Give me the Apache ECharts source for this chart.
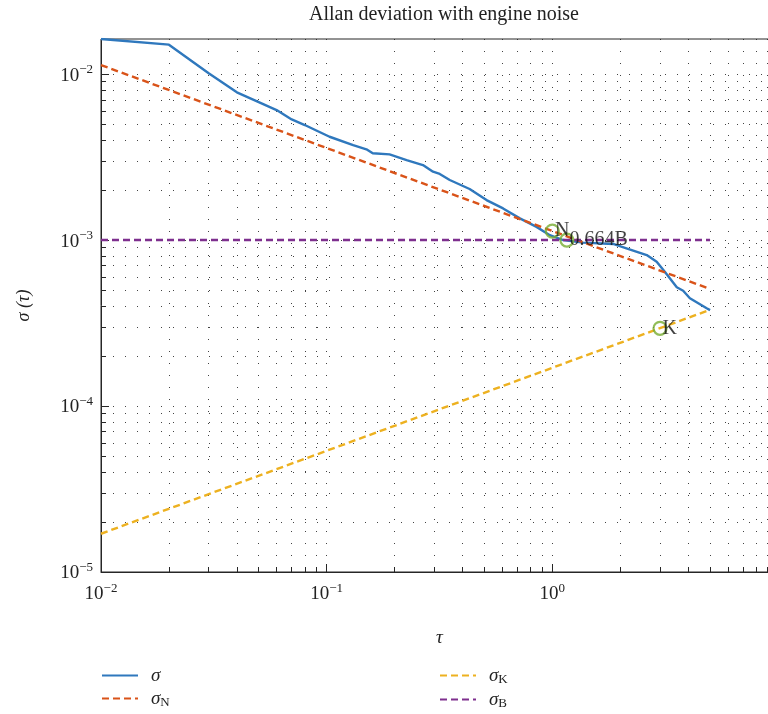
<!DOCTYPE html>
<html>
<head>
<meta charset="utf-8">
<script src="https://cdn.jsdelivr.net/npm/echarts@6/dist/echarts.min.js"></script>
<style>html,body{margin:0;padding:0;background:#fff;}#c{width:768px;height:714px;}</style>
</head>
<body>
<div id="c"></div>
<script>
// Allan deviation curve (tau, sigma)
const sigmaTau = [0.01, 0.02, 0.03, 0.04, 0.05, 0.06, 0.07, 0.08, 0.09, 0.103, 0.131, 0.15, 0.16, 0.19, 0.226, 0.267, 0.296, 0.317, 0.351, 0.43, 0.511, 0.605, 0.718, 0.851, 0.975, 1.117, 1.37, 1.86, 2.13, 2.62, 2.9, 3.15, 3.56, 3.8, 4.07, 4.83, 5.0];
const sigmaVal = [0.01626, 0.01503, 0.0101, 0.00776, 0.00678, 0.00607, 0.00533, 0.00493, 0.00457, 0.00419, 0.00373, 0.00352, 0.00333, 0.00328, 0.00303, 0.00283, 0.00258, 0.0025, 0.0023, 0.00203, 0.00174, 0.00155, 0.00135, 0.0012, 0.00107, 0.001, 0.000964, 0.000947, 0.000891, 0.000812, 0.00074, 0.000644, 0.000519, 0.000495, 0.000446, 0.000388, 0.000378];
// fitted lines (endpoints)
const lineTau = [0.01, 5];
const sigmaN = [0.01133, 0.000507];
const sigmaK = [0.0000170, 0.000380];
const sigmaB = [0.001, 0.001];
// markers
const markerTau = [1, 1.16, 3];
const markerVal = [0.001133, 0.001, 0.000294];
const markerText = ['N', '0.664B', 'K'];
// ticks
const xMajor = [0.01, 0.1, 1, 10];
const xLabels = [0.01, 0.1, 1];
const xMinor = [0.02,0.03,0.04,0.05,0.06,0.07,0.08,0.09,0.2,0.3,0.4,0.5,0.6,0.7,0.8,0.9,2,3,4,5,6,7,8,9];
const yMajor = [0.00001, 0.0001, 0.001, 0.01];
const yMinor = [0.00002,0.00003,0.00004,0.00005,0.00006,0.00007,0.00008,0.00009,0.0002,0.0003,0.0004,0.0005,0.0006,0.0007,0.0008,0.0009,0.002,0.003,0.004,0.005,0.006,0.007,0.008,0.009];

const serif = "'Liberation Serif', 'DejaVu Serif', serif";
const zip = (a, b) => a.map((v, i) => [v, b[i]]);
const expFmt = v => '{b|10}{e|' + Math.round(Math.log10(v)).toString().replace('-', '\u2212') + '}';
const labelRich = {
  b: {fontFamily: serif, fontSize: 19, color: '#222', lineHeight: 22, verticalAlign: 'bottom'},
  e: {fontFamily: serif, fontSize: 13, color: '#222', lineHeight: 22, verticalAlign: 'top'}
};
const axisLineStyle = {color: '#262626', width: 1};
const gridLine = {show: true, lineStyle: {color: '#222', width: 1, type: [1, 11], opacity: 0.85}};
const xmin = 0.01, xmax = 10, ymin = 0.00001, ymax = 0.01626;

const legendFmt = n => {
  if (n.length > 1) return '{s|σ}{sub|' + n.slice(2) + '}';
  return '{s|σ}';
};
const legendText = {
  padding: [0, 0, 0, 8],
  rich: {
    s: {fontFamily: serif, fontSize: 19, fontStyle: 'italic', color: '#222', lineHeight: 18},
    sub: {fontFamily: serif, fontSize: 13, color: '#222', lineHeight: 18, padding: [0, 0, -8, 0]}
  }
};
const legendBase = {orient: 'vertical', itemWidth: 36, itemHeight: 14, itemGap: 4,
  itemStyle: {opacity: 0, borderWidth: 0}, formatter: legendFmt, textStyle: legendText, padding: 0};

const chart = echarts.init(document.getElementById('c'));
chart.setOption({
  animation: false,
  backgroundColor: '#fff',
  title: {text: 'Allan deviation with engine noise', left: 439, textAlign: 'center', top: 0,
    textStyle: {fontFamily: serif, fontSize: 20, fontWeight: 'normal', color: '#222'}},
  grid: {left: 101, top: 39, width: 677, bottom: 142, outerBoundsMode: 'none', containLabel: false,
    show: true, borderColor: '#262626', borderWidth: 1},
  legend: [
    Object.assign({left: 101, top: 666, data: ['σ', 'σ_N']}, legendBase),
    Object.assign({left: 439, top: 666, data: ['σ_K', 'σ_B']}, legendBase)
  ],
  xAxis: [
    {type: 'log', min: xmin, max: xmax, position: 'bottom',
      axisLine: {show: true, lineStyle: axisLineStyle},
      axisTick: {show: true, inside: true, length: 8, customValues: xMajor, lineStyle: axisLineStyle},
      axisLabel: {show: true, customValues: xLabels, formatter: expFmt, rich: labelRich, margin: 10},
      splitLine: {show: false},
      name: 'τ', nameLocation: 'middle', nameGap: 56,
      nameTextStyle: {fontFamily: serif, fontSize: 19, fontStyle: 'italic', color: '#222'}},
    {type: 'log', min: xmin, max: xmax, position: 'bottom',
      axisLine: {show: false},
      axisTick: {show: true, inside: true, length: 5, customValues: xMinor.concat(xMajor), lineStyle: axisLineStyle},
      axisLabel: {show: false},
      splitLine: gridLine}
  ],
  yAxis: [
    {type: 'log', min: ymin, max: ymax, position: 'left',
      axisLine: {show: true, lineStyle: axisLineStyle},
      axisTick: {show: true, inside: true, length: 8, customValues: yMajor, lineStyle: axisLineStyle},
      axisLabel: {show: true, customValues: yMajor, formatter: expFmt, rich: labelRich, margin: 8},
      splitLine: {show: false},
      name: 'σ (τ)', nameLocation: 'middle', nameGap: 68, nameRotate: 90,
      nameTextStyle: {fontFamily: serif, fontSize: 18, fontStyle: 'italic', color: '#222'}},
    {type: 'log', min: ymin, max: ymax, position: 'left',
      axisLine: {show: false},
      axisTick: {show: true, inside: true, length: 5, customValues: yMinor.concat(yMajor), lineStyle: axisLineStyle},
      axisLabel: {show: false},
      splitLine: gridLine}
  ],
  series: [
    {name: 'σ', type: 'line', data: zip(sigmaTau, sigmaVal), symbol: 'none', xAxisIndex: 0, yAxisIndex: 0,
      lineStyle: {color: '#2f78bd', width: 2.4}, itemStyle: {color: '#2f78bd'}},
    {name: 'σ_N', type: 'line', data: zip(lineTau, sigmaN), symbol: 'none',
      lineStyle: {color: '#D95319', width: 2.4, type: [7, 4]}, itemStyle: {color: '#D95319'}},
    {name: 'σ_K', type: 'line', data: zip(lineTau, sigmaK), symbol: 'none',
      lineStyle: {color: '#EDB120', width: 2.4, type: [7, 4]}, itemStyle: {color: '#EDB120'}},
    {name: 'σ_B', type: 'line', data: zip(lineTau, sigmaB), symbol: 'none',
      lineStyle: {color: '#7E2F8E', width: 2.4, type: [7, 4]}, itemStyle: {color: '#7E2F8E'}},
    {name: 'markers', type: 'scatter', symbol: 'circle', symbolSize: 13,
      data: markerTau.map((t, i) => ({value: [t, markerVal[i]], label: {formatter: markerText[i]}})),
      itemStyle: {color: 'rgba(0,0,0,0)', borderColor: '#77AC30', borderWidth: 2.2},
      label: {show: true, position: 'right', distance: -5, fontFamily: serif, fontSize: 20, color: '#111'},
      z: 5}
  ]
});
</script>
</body>
</html>
